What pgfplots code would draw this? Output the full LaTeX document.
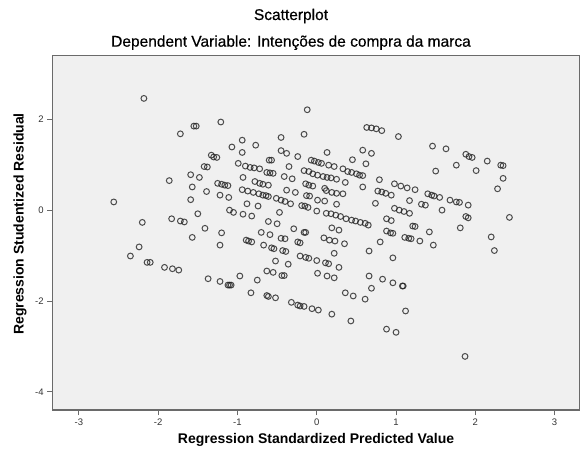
\documentclass[border=0pt]{standalone}
\usepackage{pgfplots}
\pgfplotsset{compat=1.18}
\usepackage{fontspec}
\setmainfont{Liberation Sans}
\newfontfamily\titlefont[FakeBold=0.5]{Liberation Sans}
\definecolor{bg}{HTML}{F0F0F0}
\definecolor{ax}{HTML}{6A6A6A}
\definecolor{mk}{HTML}{222222}
\begin{document}
\begin{tikzpicture}
\path[use as bounding box] (0,0) rectangle (580pt,457pt);
\begin{axis}[
 at={(52.7pt,47pt)}, anchor=south west,
 scale only axis, width=527.3pt, height=354.3pt,
 xmin=-3.33, xmax=3.32, ymin=-4.4, ymax=3.4,
 axis background/.style={fill=bg},
 axis line style={ax, line width=1.3pt},
 xtick={-3,-2,-1,0,1,2,3}, ytick={-4,-2,0,2},
 tick align=outside, tick pos=left,
 major tick length=5.5pt,
 every tick/.style={ax, line width=0.9pt},
 tick label style={font=\fontsize{9.5}{10}\selectfont, text=black!80},
 /pgf/number format/assume math mode=true,
]
\addplot[only marks, mark=o, mark size=2.9pt, mark options={draw=mk, line width=1pt, draw opacity=0.8}] coordinates {
(-2.18,2.46) (-1.21,1.94) (-1.55,1.85) (-1.52,1.85) (-1.72,1.68) (-1.07,1.39) (-0.99,1.03)
(-1.33,1.21) (-1.30,1.17) (-1.26,1.16) (-1.42,0.96) (-1.38,0.95) (-1.86,0.65) (-1.59,0.78)
(-1.48,0.72) (-1.57,0.51) (-1.39,0.41) (-1.25,0.59) (-1.20,0.57) (-1.16,0.55) (-1.12,0.54)
(-1.22,0.33) (-1.11,0.28) (-1.59,0.23) (-2.56,0.18) (-1.50,-0.08) (-1.10,0.0) (-1.05,-0.05)
(-2.20,-0.27) (-1.83,-0.19) (-1.72,-0.24) (-1.67,-0.26) (-1.41,-0.40)
(-1.20,-0.50) (-1.57,-0.60) (-1.22,-0.77) (-2.24,-0.81) (-2.35,-1.01) (-2.14,-1.15) (-2.10,-1.15)
(-1.92,-1.26) (-1.82,-1.29) (-1.74,-1.32) (-1.37,-1.51) (-1.22,-1.57) (-1.12,-1.65) (-1.10,-1.65)
(-1.08,-1.65) (-0.97,-1.45)
(-0.12,2.21) (-0.16,1.67) (0.63,1.82) (0.69,1.81) (0.75,1.79) (0.82,1.75) (1.03,1.62)
(-0.45,1.60) (-0.94,1.54) (-0.77,1.43) (-0.94,1.27) (-0.45,1.31) (-0.38,1.25) (-0.24,1.18)
(0.13,1.27) (0.58,1.32) (0.69,1.25) (0.45,1.11) (0.62,1.02) (-0.60,1.10) (-0.57,1.10)
(-0.90,0.97) (-0.84,0.94) (-0.79,0.93) (-0.72,0.91) (-0.63,0.83) (-0.59,0.82) (-0.55,0.81)
(-0.35,0.96) (-0.07,1.10) (-0.03,1.08) (0.02,1.05) (0.06,1.03) (0.15,0.99) (0.22,0.96)
(-0.16,0.87) (-0.10,0.85) (-0.05,0.80) (0.01,0.77) (0.08,0.74) (0.13,0.72) (0.18,0.71) (0.25,0.68)
(0.33,0.91) (0.39,0.85) (0.44,0.83) (0.50,0.80) (0.54,0.77) (0.58,0.76)
(-0.41,0.74) (-0.31,0.69) (-0.93,0.72) (-0.78,0.63) (-0.72,0.59) (-0.68,0.57) (-0.61,0.55)
(-0.14,0.58) (-0.10,0.55) (-0.05,0.53) (0.36,0.61) (0.58,0.51) (0.79,0.67)
(0.77,0.42) (0.82,0.40) (0.87,0.37) (0.94,0.33)
(-0.94,0.45) (-0.87,0.42) (-0.80,0.39) (-0.73,0.36) (-0.68,0.33) (-0.64,0.32) (-0.61,0.30)
(-0.38,0.44) (-0.27,0.39) (-0.13,0.32) (-0.09,0.31)
(0.10,0.48) (0.12,0.43) (0.19,0.39) (0.25,0.37) (0.33,0.36) (0.01,0.22) (0.10,0.20)
(-0.51,0.26) (-0.45,0.22) (-0.40,0.19) (-0.33,0.14) (-0.88,0.14) (-0.74,0.09) (0.25,0.13) (0.74,0.15)
(-0.19,0.10) (-0.15,0.09) (-0.11,0.06)
(0.00,-0.02) (0.12,-0.07) (0.18,-0.08) (0.24,-0.11) (0.30,-0.14) (0.37,-0.19) (0.44,-0.22)
(0.49,-0.24) (0.55,-0.27) (0.61,-0.29) (0.65,-0.33)
(-0.93,-0.09) (-0.82,-0.13) (-0.47,-0.05) (-0.61,-0.25) (-0.50,-0.30) (0.88,-0.19) (0.94,-0.23)
(-0.70,-0.49) (-0.59,-0.54) (-0.29,-0.41) (-0.16,-0.49) (-0.14,-0.49) (0.19,-0.39) (0.28,-0.44)
(0.88,-0.46) (0.93,-0.50) (0.96,-0.51) (-0.89,-0.66) (-0.86,-0.68) (-0.82,-0.70)
(-0.67,-0.77) (-0.57,-0.83) (-0.54,-0.85) (-0.45,-0.62) (-0.40,-0.63) (-0.24,-0.70) (-0.21,-0.72)
(0.09,-0.61) (0.16,-0.66) (0.23,-0.68) (0.35,-0.74) (0.80,-0.70) (-0.43,-0.89) (-0.39,-0.91)
(0.66,-0.90) (0.22,-0.95) (-0.52,-1.12) (-0.36,-1.19) (-0.21,-1.01) (-0.14,-1.04) (-0.10,-1.06)
(0.00,-1.11) (0.11,-1.16) (0.15,-1.18) (0.28,-1.26) (0.96,-1.05) (-0.63,-1.34) (-0.55,-1.37)
(-0.44,-1.44) (-0.41,-1.44) (0.01,-1.39) (0.13,-1.45) (0.22,-1.49) (-0.75,-1.54) (-0.83,-1.82)
(-0.63,-1.88) (-0.61,-1.90) (-0.52,-1.93) (-0.32,-2.03) (-0.24,-2.09) (-0.21,-2.11) (-0.16,-2.12)
(-0.06,-2.17) (0.02,-2.20) (0.19,-2.29) (0.36,-1.82) (0.46,-1.89) (0.43,-2.44) (0.61,-1.96)
(0.66,-1.45) (0.69,-1.72) (0.83,-1.52) (0.96,-1.60) (0.88,-2.62) (1.00,-2.69)
(1.46,1.41) (1.63,1.35) (1.88,1.23) (1.92,1.18) (1.96,1.16) (2.15,1.08) (2.32,0.99) (2.35,0.98)
(1.76,0.99) (2.01,0.87) (1.50,0.86) (2.35,0.70) (2.28,0.47)
(0.98,0.58) (1.06,0.53) (1.14,0.49) (1.24,0.45) (1.17,0.21)
(1.40,0.36) (1.45,0.33) (1.48,0.31) (1.55,0.28) (1.68,0.22) (1.76,0.18) (1.80,0.17) (1.91,0.11)
(1.32,0.13) (1.37,0.11) (1.58,0.0) (0.98,0.04) (1.04,0.0) (1.10,-0.03) (1.17,-0.07)
(1.21,-0.35) (1.24,-0.36) (1.88,-0.14) (1.91,-0.17) (2.43,-0.16)
(1.11,-0.60) (1.16,-0.62) (1.19,-0.63) (1.42,-0.48) (1.30,-0.68) (1.47,-0.77) (1.81,-0.39)
(2.20,-0.59) (2.24,-0.89) (1.08,-1.67) (1.09,-1.67) (1.12,-2.22) (1.87,-3.22)
};
\end{axis}
\node[font=\titlefont\fontsize{15.5}{18}\selectfont] at (291pt,441pt) {Scatterplot};
\node[font=\titlefont\fontsize{15.5}{18}\selectfont] at (291pt,414.3pt) {Dependent Variable: Intenções de compra da marca};
\node[font=\bfseries\fontsize{14}{16}\selectfont] at (316pt,17pt) {Regression Standardized Predicted Value};
\node[font=\bfseries\fontsize{14}{16}\selectfont, rotate=90] at (20pt,233pt) {Regression Studentized Residual};
\end{tikzpicture}
\end{document}
